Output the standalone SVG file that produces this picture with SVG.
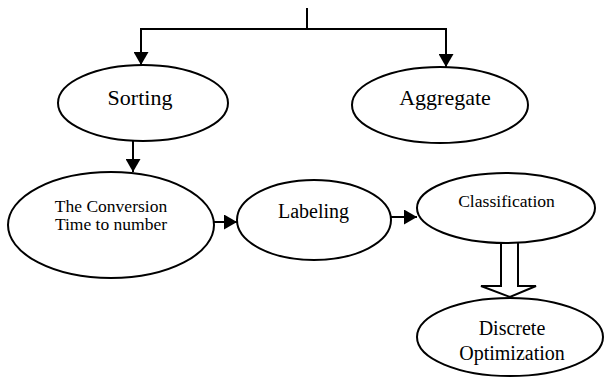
<svg xmlns="http://www.w3.org/2000/svg" width="605" height="377" viewBox="0 0 605 377">
<style>
.n ellipse{fill:#fff;stroke:#000;stroke-width:2}
.t{font-family:'Liberation Serif','DejaVu Serif',serif;fill:#000;text-anchor:middle}
.c path,.c line{fill:none;stroke:#000;stroke-width:2}
</style>
<defs>
<marker id="ah" viewBox="0 0 13 15" refX="13" refY="7.5" markerWidth="6.5" markerHeight="7.5" markerUnits="strokeWidth" orient="auto">
<path d="M0,0 L13,7.5 L0,15 Z" fill="#000"/>
</marker>
</defs>
<g class="c" id="connectors">
<line x1="307" y1="8" x2="307" y2="29"/>
<path d="M307,29 H141 V65" marker-end="url(#ah)"/>
<path d="M307,29 H446 V67" marker-end="url(#ah)"/>
<line x1="133" y1="141" x2="133" y2="172" marker-end="url(#ah)"/>
<line x1="213" y1="222" x2="237" y2="222" marker-end="url(#ah)"/>
<line x1="391" y1="217" x2="417" y2="217" marker-end="url(#ah)"/>
<path d="M501,243 V286 H481 L510,297 L536,286 H518 V243" stroke-width="1.5"/>
</g>
<g class="n" id="sorting"><ellipse cx="143" cy="103" rx="85" ry="38"/><text class="t" x="140" y="105" font-size="22">Sorting</text></g>
<g class="n" id="aggregate"><ellipse cx="440" cy="105" rx="88" ry="38"/><text class="t" x="445" y="105" font-size="22">Aggregate</text></g>
<g class="n" id="conversion"><ellipse cx="111" cy="225" rx="103" ry="53"/><text class="t" x="111" y="212" font-size="17.5">The Conversion</text><text class="t" x="111" y="230" font-size="17.5">Time to number</text></g>
<g class="n" id="labeling"><ellipse cx="314" cy="220" rx="77" ry="40"/><text class="t" x="313.5" y="218" font-size="20">Labeling</text></g>
<g class="n" id="classification"><ellipse cx="506" cy="208" rx="89" ry="35"/><text class="t" x="506.5" y="207" font-size="17.6">Classification</text></g>
<g class="n" id="discrete"><ellipse cx="510" cy="337" rx="93" ry="39"/><text class="t" x="512" y="335" font-size="20">Discrete</text><text class="t" x="512" y="360" font-size="20">Optimization</text></g>
</svg>
